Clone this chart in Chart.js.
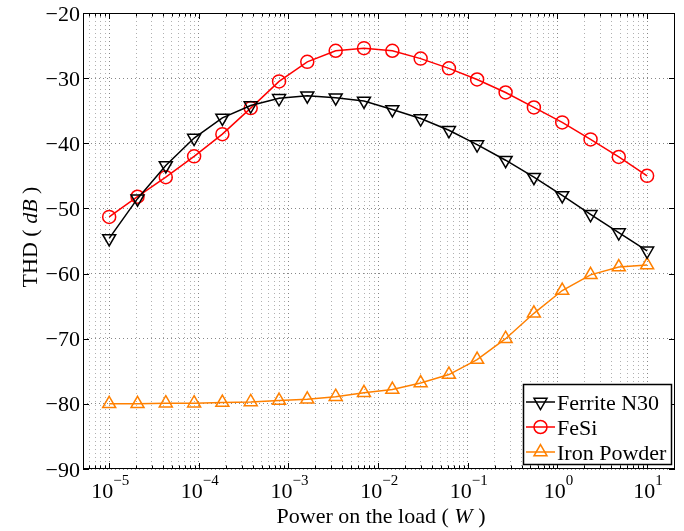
<!DOCTYPE html>
<html>
<head>
<meta charset="utf-8">
<script src="https://cdn.jsdelivr.net/npm/chart.js@4/dist/chart.umd.min.js"></script>
<style>
html,body{margin:0;padding:0;background:#fff;}
#wrap{width:684px;height:531px;position:relative;}
</style>
</head>
<body>
<div id="wrap"><canvas id="c" width="684" height="531"></canvas></div>
<script>
// ---- data ----
const powers = [1e-5, 2.07e-5, 4.28e-5, 8.86e-5, 1.83e-4, 3.79e-4, 7.85e-4, 1.62e-3, 3.36e-3, 6.95e-3,
                1.44e-2, 2.98e-2, 6.16e-2, 0.127, 0.264, 0.546, 1.13, 2.34, 4.83, 10];
const ferriteN30 = [-54.6, -48.5, -43.4, -39.2, -36.1, -34.2, -33.1, -32.7, -33.0, -33.5,
                    -34.8, -36.2, -38.0, -40.2, -42.6, -45.2, -48.0, -50.9, -53.7, -56.5];
const feSi = [-51.3, -48.2, -45.2, -42.0, -38.6, -34.6, -30.5, -27.5, -25.8, -25.4,
              -25.8, -27.0, -28.5, -30.2, -32.2, -34.5, -36.8, -39.4, -42.1, -45.0];
const ironPowder = [-80.0, -80.0, -79.9, -79.9, -79.8, -79.7, -79.5, -79.3, -78.9, -78.3,
                    -77.8, -76.8, -75.5, -73.2, -70.0, -66.1, -62.6, -60.2, -59.0, -58.7];
const seriesLabels = ['Ferrite N30', 'FeSi', 'Iron Powder'];
const xDecadeExponents = [-5, -4, -3, -2, -1, 0, 1];
const yTickValues = [-90, -80, -70, -60, -50, -40, -30, -20];
const xMin = Math.pow(10, -5.292), xMax = Math.pow(10, 1.311);
const yMin = -90, yMax = -20;

const FONT = '"Liberation Serif", "Times New Roman", serif';
const pts = arr => arr.map((v, i) => ({x: powers[i], y: v}));

function minusStr(n){ return n < 0 ? '\u2212' + Math.abs(n) : String(n); }

const decorations = {
  id: 'decorations',
  afterDatasetsDraw(chart) {
    const ctx = chart.ctx;
    const a = chart.chartArea;
    const xs = chart.scales.x, ys = chart.scales.y;
    ctx.save();
    // box
    ctx.strokeStyle = '#000';
    ctx.lineWidth = 1;
    ctx.setLineDash([]);
    ctx.strokeRect(a.left + 0.5, a.top + 0.5, a.right - a.left - 1, a.bottom - a.top - 1);
    // x ticks (inside, bottom & top)
    ctx.beginPath();
    xs.ticks.forEach(t => {
      const px = Math.round(xs.getPixelForValue(t.value)) + 0.5;
      const lg = Math.log10(t.value);
      const major = Math.abs(lg - Math.round(lg)) < 1e-9;
      const len = major ? 6 : 3.5;
      ctx.moveTo(px, a.bottom); ctx.lineTo(px, a.bottom - len);
      ctx.moveTo(px, a.top); ctx.lineTo(px, a.top + len);
    });
    yTickValues.forEach(v => {
      const py = Math.round(ys.getPixelForValue(v)) + 0.5;
      ctx.moveTo(a.left, py); ctx.lineTo(a.left + 6, py);
      ctx.moveTo(a.right, py); ctx.lineTo(a.right - 6, py);
    });
    ctx.stroke();
    // y tick labels
    ctx.fillStyle = '#000';
    ctx.font = '22px ' + FONT;
    ctx.textAlign = 'right';
    ctx.textBaseline = 'alphabetic';
    yTickValues.forEach(v => {
      const py = ys.getPixelForValue(v);
      ctx.fillText(minusStr(v), a.left - 3, py + 7.5);
    });
    // x tick labels 10^n
    xDecadeExponents.forEach(e => {
      const px = xs.getPixelForValue(Math.pow(10, e));
      ctx.font = '22px ' + FONT;
      const w1 = ctx.measureText('10').width;
      ctx.font = '15px ' + FONT;
      const es = minusStr(e);
      const w2 = ctx.measureText(es).width;
      const left = px - (w1 + w2) / 2 + 1;
      ctx.textAlign = 'left';
      ctx.font = '22px ' + FONT;
      ctx.fillText('10', left, a.bottom + 29);
      ctx.font = '15px ' + FONT;
      ctx.fillText(es, left + w1, a.bottom + 16);
    });
    // x axis title
    ctx.font = '22px ' + FONT;
    const p1 = 'Power on the load ( ', p2 = 'W', p3 = ' )';
    const w1 = ctx.measureText(p1).width;
    ctx.font = 'italic 22px ' + FONT;
    const w2 = ctx.measureText(p2).width;
    ctx.font = '22px ' + FONT;
    const w3 = ctx.measureText(p3).width;
    let sx = (a.left + a.right) / 2 + 2 - (w1 + w2 + w3) / 2;
    const by = 523;
    ctx.fillText(p1, sx, by);
    ctx.font = 'italic 22px ' + FONT;
    ctx.fillText(p2, sx + w1, by);
    ctx.font = '22px ' + FONT;
    ctx.fillText(p3, sx + w1 + w2, by);
    // y axis title (rotated)
    ctx.save();
    ctx.translate(37, (a.top + a.bottom) / 2 - 4);
    ctx.rotate(-Math.PI / 2);
    ctx.font = '22px ' + FONT;
    const q1 = 'THD ( ', q2 = 'dB', q3 = ' )';
    const v1 = ctx.measureText(q1).width;
    ctx.font = 'italic 22px ' + FONT;
    const v2 = ctx.measureText(q2).width;
    ctx.font = '22px ' + FONT;
    const v3 = ctx.measureText(q3).width;
    let tx = -(v1 + v2 + v3) / 2;
    ctx.fillText(q1, tx, 0);
    ctx.font = 'italic 22px ' + FONT;
    ctx.fillText(q2, tx + v1, 0);
    ctx.font = '22px ' + FONT;
    ctx.fillText(q3, tx + v1 + v2, 0);
    ctx.restore();
    // legend
    const L = {left: 523, top: 384, right: 672, bottom: 465};
    ctx.fillStyle = '#fff';
    ctx.fillRect(L.left, L.top, L.right - L.left, L.bottom - L.top);
    ctx.strokeStyle = '#000';
    ctx.lineWidth = 1.5;
    ctx.strokeRect(L.left + 0.5, L.top + 0.5, L.right - L.left - 1, L.bottom - L.top - 1);
    const rowsY = [402, 427, 452];
    chart.data.datasets.forEach((ds, i) => {
      const cy = rowsY[i];
      ctx.strokeStyle = ds.borderColor;
      ctx.lineWidth = ds.borderWidth;
      ctx.beginPath();
      ctx.moveTo(526, cy); ctx.lineTo(555, cy);
      ctx.stroke();
      ctx.fillStyle = 'rgba(255,255,255,0)';
      ctx.strokeStyle = ds.borderColor;
      ctx.lineWidth = ds.pointBorderWidth;
      Chart.helpers.drawPoint(ctx, {
        pointStyle: ds.pointStyle, rotation: ds.pointRotation || 0,
        radius: ds.pointRadius, borderWidth: ds.pointBorderWidth
      }, 540.5, cy);
      ctx.fillStyle = '#000';
      ctx.font = '22px ' + FONT;
      ctx.textAlign = 'left';
      ctx.fillText(ds.label, 557, cy + 8);
    });
    ctx.restore();
  }
};

const gridColor = ctx => {
  if (!ctx.tick) return '#aaa';
  const lg = Math.log10(ctx.tick.value);
  return Math.abs(lg - Math.round(lg)) < 1e-9 ? '#888' : '#b0b0b0';
};

new Chart(document.getElementById('c'), {
  type: 'line',
  data: {
    datasets: [
      {label: seriesLabels[0], data: pts(ferriteN30), borderColor: '#000000', backgroundColor: '#ffffff',
       pointStyle: 'triangle', pointRotation: 180, pointRadius: 7.5, pointBorderWidth: 1.5, borderWidth: 1.5,
       pointBackgroundColor: 'rgba(255,255,255,0)', tension: 0},
      {label: seriesLabels[1], data: pts(feSi), borderColor: '#ff0000', backgroundColor: '#ffffff',
       pointStyle: 'circle', pointRadius: 6.5, pointBorderWidth: 1.5, borderWidth: 1.5,
       pointBackgroundColor: 'rgba(255,255,255,0)', tension: 0},
      {label: seriesLabels[2], data: pts(ironPowder), borderColor: '#ff8000', backgroundColor: '#ffffff',
       pointStyle: 'triangle', pointRadius: 7.5, pointBorderWidth: 1.5, borderWidth: 1.5,
       pointBackgroundColor: 'rgba(255,255,255,0)', tension: 0}
    ]
  },
  options: {
    responsive: false,
    animation: false,
    devicePixelRatio: 1,
    layout: {padding: {left: 83, right: 7, top: 13, bottom: 62}},
    plugins: {legend: {display: false}, tooltip: {enabled: false}},
    scales: {
      x: {
        type: 'logarithmic', min: xMin, max: xMax,
        afterBuildTicks: scale => {
          const t = [];
          for (let e = -6; e <= 2; e++) for (let m = 1; m <= 9; m++) {
            const v = m * Math.pow(10, e);
            if (v > xMin && v < xMax) t.push({value: v});
          }
          scale.ticks = t;
        },
        ticks: {display: false},
        grid: {color: gridColor, lineWidth: 1, drawTicks: false},
        border: {display: false, dash: [1, 3]}
      },
      y: {
        type: 'linear', min: yMin, max: yMax,
        afterBuildTicks: scale => { scale.ticks = yTickValues.map(v => ({value: v})); },
        ticks: {display: false},
        grid: {color: '#888', lineWidth: 1, drawTicks: false},
        border: {display: false, dash: [1, 3]}
      }
    }
  },
  plugins: [decorations]
});
</script>
</body>
</html>
